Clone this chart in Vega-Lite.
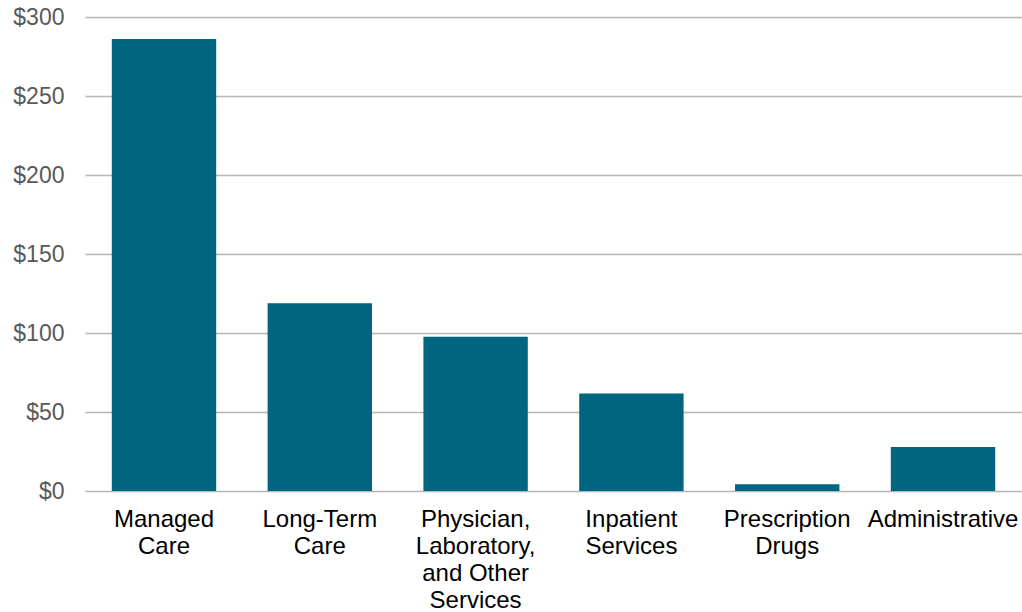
{
  "$schema": "https://vega.github.io/schema/vega-lite/v6.json",
  "autosize": {"type": "none"},
  "padding": {"left": 85, "top": 17, "right": 0, "bottom": 121},
  "width": 937,
  "height": 474,
  "background": "white",
  "config": {
    "view": {"stroke": null},
    "font": "Liberation Sans"
  },
  "data": {
    "values": [
      {"category": "Managed\nCare", "spending": 286},
      {"category": "Long-Term\nCare", "spending": 118.8},
      {"category": "Physician,\nLaboratory,\nand Other\nServices", "spending": 97.6},
      {"category": "Inpatient\nServices", "spending": 61.7},
      {"category": "Prescription\nDrugs", "spending": 4.2},
      {"category": "Administrative", "spending": 27.9}
    ]
  },
  "mark": {"type": "bar", "color": "#00667f"},
  "encoding": {
    "x": {
      "field": "category",
      "type": "nominal",
      "sort": null,
      "scale": {"paddingInner": 0.33, "paddingOuter": 0.172},
      "axis": {
        "title": null,
        "labelAngle": 0,
        "labelExpr": "split(datum.label, '\\n')",
        "labelFontSize": 24,
        "labelLineHeight": 27,
        "labelColor": "#000000",
        "labelBaseline": "top",
        "labelPadding": 16,
        "ticks": false,
        "domain": false,
        "labelLimit": 300
      }
    },
    "y": {
      "field": "spending",
      "type": "quantitative",
      "scale": {"domain": [0, 300], "nice": false},
      "axis": {
        "title": null,
        "values": [0, 50, 100, 150, 200, 250, 300],
        "format": "$,.0f",
        "labelFontSize": 23,
        "labelColor": "#595959",
        "labelPadding": 21,
        "ticks": false,
        "domain": false,
        "gridColor": "#b5b5b5",
        "gridWidth": 1.5
      }
    }
  }
}
